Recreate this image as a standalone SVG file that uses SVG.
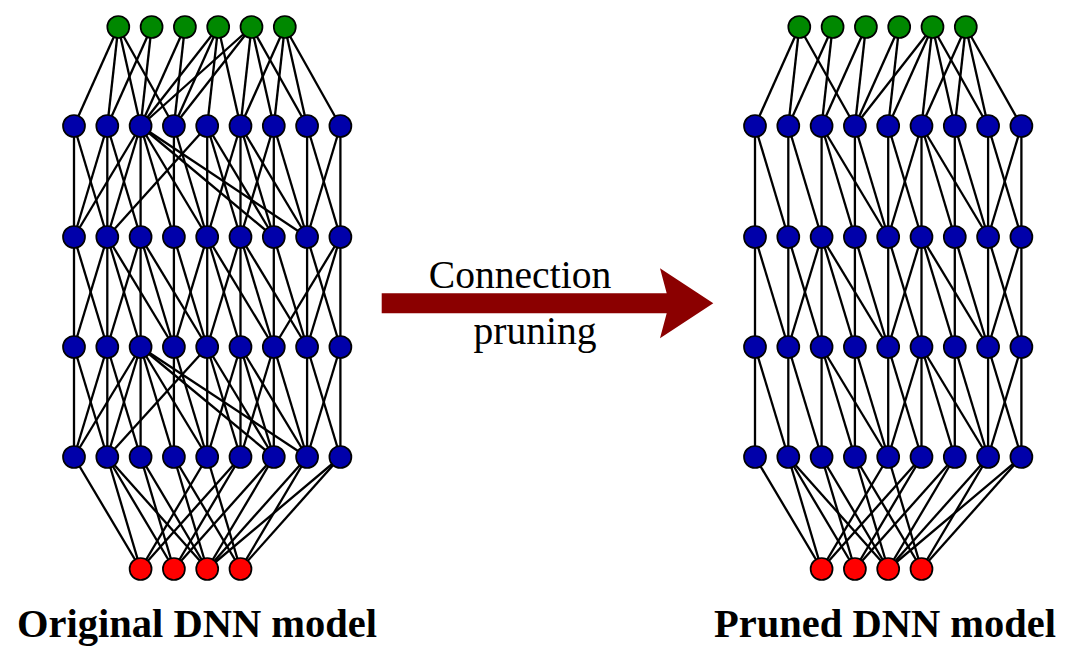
<svg xmlns="http://www.w3.org/2000/svg" width="1077" height="666" viewBox="0 0 1077 666">
<style>
.c line{stroke:#000;stroke-width:2.3}
.n circle{stroke:#000;stroke-width:1.7}
.g circle{fill:#008800}
.b circle{fill:#0000aa}
.r circle{fill:#ff0000}
.lbl{font-family:"Liberation Serif","Times New Roman",serif;font-size:39.6px;fill:#000}
.ttl{font-family:"Liberation Serif","Times New Roman",serif;font-size:40.5px;font-weight:bold;fill:#000}
</style>
<rect width="1077" height="666" fill="#fff"/>
<g id="connectors" class="c">
<!-- left: green -> row1 -->
<line x1="118.3" y1="27" x2="74" y2="126"/><line x1="118.3" y1="27" x2="107.3" y2="126"/><line x1="118.3" y1="27" x2="140.6" y2="126"/><line x1="118.3" y1="27" x2="173.9" y2="126"/>
<line x1="151.6" y1="27" x2="107.3" y2="126"/><line x1="151.6" y1="27" x2="140.6" y2="126"/>
<line x1="184.9" y1="27" x2="140.6" y2="126"/><line x1="184.9" y1="27" x2="173.9" y2="126"/>
<line x1="218.2" y1="27" x2="140.6" y2="126"/><line x1="218.2" y1="27" x2="173.9" y2="126"/><line x1="218.2" y1="27" x2="207.2" y2="126"/><line x1="218.2" y1="27" x2="240.5" y2="126"/>
<line x1="251.5" y1="27" x2="140.6" y2="126"/><line x1="251.5" y1="27" x2="173.9" y2="126"/><line x1="251.5" y1="27" x2="240.5" y2="126"/><line x1="251.5" y1="27" x2="273.8" y2="126"/><line x1="251.5" y1="27" x2="307.1" y2="126"/>
<line x1="284.8" y1="27" x2="240.5" y2="126"/><line x1="284.8" y1="27" x2="273.8" y2="126"/><line x1="284.8" y1="27" x2="307.1" y2="126"/><line x1="284.8" y1="27" x2="340.4" y2="126"/>
<!-- left: row1 -> row2 -->
<line x1="74" y1="126" x2="74" y2="237"/><line x1="74" y1="126" x2="107.3" y2="237"/>
<line x1="107.3" y1="126" x2="74" y2="237"/><line x1="107.3" y1="126" x2="107.3" y2="237"/><line x1="107.3" y1="126" x2="140.6" y2="237"/>
<line x1="140.6" y1="126" x2="74" y2="237"/><line x1="140.6" y1="126" x2="107.3" y2="237"/><line x1="140.6" y1="126" x2="140.6" y2="237"/><line x1="140.6" y1="126" x2="173.9" y2="237"/><line x1="140.6" y1="126" x2="207.2" y2="237"/><line x1="140.6" y1="126" x2="273.8" y2="237"/><line x1="140.6" y1="126" x2="307.1" y2="237"/>
<line x1="173.9" y1="126" x2="173.9" y2="237"/><line x1="173.9" y1="126" x2="207.2" y2="237"/>
<line x1="207.2" y1="126" x2="107.3" y2="237"/><line x1="207.2" y1="126" x2="207.2" y2="237"/><line x1="207.2" y1="126" x2="240.5" y2="237"/><line x1="207.2" y1="126" x2="273.8" y2="237"/>
<line x1="240.5" y1="126" x2="207.2" y2="237"/><line x1="240.5" y1="126" x2="240.5" y2="237"/><line x1="240.5" y1="126" x2="273.8" y2="237"/><line x1="240.5" y1="126" x2="307.1" y2="237"/>
<line x1="273.8" y1="126" x2="240.5" y2="237"/><line x1="273.8" y1="126" x2="273.8" y2="237"/><line x1="273.8" y1="126" x2="307.1" y2="237"/>
<line x1="307.1" y1="126" x2="307.1" y2="237"/><line x1="307.1" y1="126" x2="340.4" y2="237"/>
<line x1="340.4" y1="126" x2="307.1" y2="237"/><line x1="340.4" y1="126" x2="340.4" y2="237"/>
<!-- left: row2 -> row3 -->
<line x1="74" y1="237" x2="74" y2="347"/><line x1="74" y1="237" x2="107.3" y2="347"/>
<line x1="107.3" y1="237" x2="74" y2="347"/><line x1="107.3" y1="237" x2="107.3" y2="347"/><line x1="107.3" y1="237" x2="140.6" y2="347"/><line x1="107.3" y1="237" x2="173.9" y2="347"/>
<line x1="140.6" y1="237" x2="107.3" y2="347"/><line x1="140.6" y1="237" x2="140.6" y2="347"/><line x1="140.6" y1="237" x2="173.9" y2="347"/><line x1="140.6" y1="237" x2="207.2" y2="347"/>
<line x1="173.9" y1="237" x2="173.9" y2="347"/><line x1="173.9" y1="237" x2="207.2" y2="347"/>
<line x1="207.2" y1="237" x2="173.9" y2="347"/><line x1="207.2" y1="237" x2="207.2" y2="347"/><line x1="207.2" y1="237" x2="240.5" y2="347"/><line x1="207.2" y1="237" x2="273.8" y2="347"/>
<line x1="240.5" y1="237" x2="207.2" y2="347"/><line x1="240.5" y1="237" x2="240.5" y2="347"/><line x1="240.5" y1="237" x2="273.8" y2="347"/><line x1="240.5" y1="237" x2="307.1" y2="347"/>
<line x1="273.8" y1="237" x2="273.8" y2="347"/><line x1="273.8" y1="237" x2="307.1" y2="347"/>
<line x1="307.1" y1="237" x2="307.1" y2="347"/><line x1="307.1" y1="237" x2="340.4" y2="347"/>
<line x1="340.4" y1="237" x2="273.8" y2="347"/><line x1="340.4" y1="237" x2="307.1" y2="347"/><line x1="340.4" y1="237" x2="340.4" y2="347"/>
<!-- left: row3 -> row4 -->
<line x1="74" y1="347" x2="74" y2="457"/><line x1="74" y1="347" x2="107.3" y2="457"/>
<line x1="107.3" y1="347" x2="74" y2="457"/><line x1="107.3" y1="347" x2="107.3" y2="457"/><line x1="107.3" y1="347" x2="140.6" y2="457"/>
<line x1="140.6" y1="347" x2="74" y2="457"/><line x1="140.6" y1="347" x2="107.3" y2="457"/><line x1="140.6" y1="347" x2="140.6" y2="457"/><line x1="140.6" y1="347" x2="173.9" y2="457"/><line x1="140.6" y1="347" x2="207.2" y2="457"/><line x1="140.6" y1="347" x2="273.8" y2="457"/><line x1="140.6" y1="347" x2="307.1" y2="457"/>
<line x1="173.9" y1="347" x2="173.9" y2="457"/><line x1="173.9" y1="347" x2="207.2" y2="457"/>
<line x1="207.2" y1="347" x2="107.3" y2="457"/><line x1="207.2" y1="347" x2="207.2" y2="457"/><line x1="207.2" y1="347" x2="240.5" y2="457"/><line x1="207.2" y1="347" x2="273.8" y2="457"/>
<line x1="240.5" y1="347" x2="207.2" y2="457"/><line x1="240.5" y1="347" x2="240.5" y2="457"/><line x1="240.5" y1="347" x2="273.8" y2="457"/><line x1="240.5" y1="347" x2="307.1" y2="457"/>
<line x1="273.8" y1="347" x2="240.5" y2="457"/><line x1="273.8" y1="347" x2="273.8" y2="457"/><line x1="273.8" y1="347" x2="307.1" y2="457"/>
<line x1="307.1" y1="347" x2="307.1" y2="457"/><line x1="307.1" y1="347" x2="340.4" y2="457"/>
<line x1="340.4" y1="347" x2="307.1" y2="457"/><line x1="340.4" y1="347" x2="340.4" y2="457"/>
<!-- left: row4 -> red -->
<line x1="74" y1="457" x2="140.6" y2="569"/>
<line x1="107.3" y1="457" x2="140.6" y2="569"/><line x1="107.3" y1="457" x2="173.9" y2="569"/><line x1="107.3" y1="457" x2="207.2" y2="569"/>
<line x1="140.6" y1="457" x2="173.9" y2="569"/><line x1="140.6" y1="457" x2="207.2" y2="569"/>
<line x1="173.9" y1="457" x2="207.2" y2="569"/><line x1="173.9" y1="457" x2="240.5" y2="569"/>
<line x1="207.2" y1="457" x2="140.6" y2="569"/><line x1="207.2" y1="457" x2="240.5" y2="569"/>
<line x1="240.5" y1="457" x2="140.6" y2="569"/><line x1="240.5" y1="457" x2="173.9" y2="569"/>
<line x1="273.8" y1="457" x2="173.9" y2="569"/><line x1="273.8" y1="457" x2="207.2" y2="569"/>
<line x1="307.1" y1="457" x2="207.2" y2="569"/><line x1="307.1" y1="457" x2="240.5" y2="569"/>
<line x1="340.4" y1="457" x2="207.2" y2="569"/><line x1="340.4" y1="457" x2="240.5" y2="569"/>

<!-- right: green -> row1 -->
<line x1="799.3" y1="27" x2="755" y2="126"/><line x1="799.3" y1="27" x2="788.3" y2="126"/><line x1="799.3" y1="27" x2="854.9" y2="126"/>
<line x1="832.6" y1="27" x2="788.3" y2="126"/><line x1="832.6" y1="27" x2="821.6" y2="126"/>
<line x1="865.9" y1="27" x2="821.6" y2="126"/><line x1="865.9" y1="27" x2="854.9" y2="126"/>
<line x1="899.2" y1="27" x2="854.9" y2="126"/><line x1="899.2" y1="27" x2="888.2" y2="126"/>
<line x1="932.5" y1="27" x2="854.9" y2="126"/><line x1="932.5" y1="27" x2="888.2" y2="126"/><line x1="932.5" y1="27" x2="921.5" y2="126"/><line x1="932.5" y1="27" x2="954.8" y2="126"/><line x1="932.5" y1="27" x2="988.1" y2="126"/>
<line x1="965.8" y1="27" x2="921.5" y2="126"/><line x1="965.8" y1="27" x2="954.8" y2="126"/><line x1="965.8" y1="27" x2="988.1" y2="126"/><line x1="965.8" y1="27" x2="1021.4" y2="126"/>
<!-- right: row1 -> row2 -->
<line x1="755" y1="126" x2="755" y2="237"/><line x1="755" y1="126" x2="788.3" y2="237"/>
<line x1="788.3" y1="126" x2="788.3" y2="237"/><line x1="788.3" y1="126" x2="821.6" y2="237"/>
<line x1="821.6" y1="126" x2="821.6" y2="237"/><line x1="821.6" y1="126" x2="854.9" y2="237"/><line x1="821.6" y1="126" x2="888.2" y2="237"/>
<line x1="854.9" y1="126" x2="854.9" y2="237"/><line x1="854.9" y1="126" x2="888.2" y2="237"/>
<line x1="888.2" y1="126" x2="888.2" y2="237"/><line x1="888.2" y1="126" x2="921.5" y2="237"/>
<line x1="921.5" y1="126" x2="888.2" y2="237"/><line x1="921.5" y1="126" x2="921.5" y2="237"/><line x1="921.5" y1="126" x2="954.8" y2="237"/><line x1="921.5" y1="126" x2="988.1" y2="237"/>
<line x1="954.8" y1="126" x2="954.8" y2="237"/><line x1="954.8" y1="126" x2="988.1" y2="237"/>
<line x1="988.1" y1="126" x2="988.1" y2="237"/><line x1="988.1" y1="126" x2="1021.4" y2="237"/>
<line x1="1021.4" y1="126" x2="988.1" y2="237"/><line x1="1021.4" y1="126" x2="1021.4" y2="237"/>
<!-- right: row2 -> row3 -->
<line x1="755" y1="237" x2="755" y2="347"/><line x1="755" y1="237" x2="788.3" y2="347"/>
<line x1="788.3" y1="237" x2="788.3" y2="347"/><line x1="788.3" y1="237" x2="821.6" y2="347"/>
<line x1="821.6" y1="237" x2="788.3" y2="347"/><line x1="821.6" y1="237" x2="821.6" y2="347"/><line x1="821.6" y1="237" x2="854.9" y2="347"/><line x1="821.6" y1="237" x2="888.2" y2="347"/>
<line x1="854.9" y1="237" x2="854.9" y2="347"/><line x1="854.9" y1="237" x2="888.2" y2="347"/>
<line x1="888.2" y1="237" x2="888.2" y2="347"/><line x1="888.2" y1="237" x2="921.5" y2="347"/>
<line x1="921.5" y1="237" x2="888.2" y2="347"/><line x1="921.5" y1="237" x2="921.5" y2="347"/><line x1="921.5" y1="237" x2="954.8" y2="347"/><line x1="921.5" y1="237" x2="988.1" y2="347"/>
<line x1="954.8" y1="237" x2="954.8" y2="347"/><line x1="954.8" y1="237" x2="988.1" y2="347"/>
<line x1="988.1" y1="237" x2="988.1" y2="347"/><line x1="988.1" y1="237" x2="1021.4" y2="347"/>
<line x1="1021.4" y1="237" x2="988.1" y2="347"/><line x1="1021.4" y1="237" x2="1021.4" y2="347"/>
<!-- right: row3 -> row4 -->
<line x1="755" y1="347" x2="755" y2="457"/><line x1="755" y1="347" x2="788.3" y2="457"/>
<line x1="788.3" y1="347" x2="788.3" y2="457"/><line x1="788.3" y1="347" x2="821.6" y2="457"/>
<line x1="821.6" y1="347" x2="821.6" y2="457"/><line x1="821.6" y1="347" x2="854.9" y2="457"/><line x1="821.6" y1="347" x2="888.2" y2="457"/>
<line x1="854.9" y1="347" x2="854.9" y2="457"/><line x1="854.9" y1="347" x2="888.2" y2="457"/>
<line x1="888.2" y1="347" x2="888.2" y2="457"/><line x1="888.2" y1="347" x2="921.5" y2="457"/>
<line x1="921.5" y1="347" x2="888.2" y2="457"/><line x1="921.5" y1="347" x2="921.5" y2="457"/><line x1="921.5" y1="347" x2="954.8" y2="457"/><line x1="921.5" y1="347" x2="988.1" y2="457"/>
<line x1="954.8" y1="347" x2="954.8" y2="457"/><line x1="954.8" y1="347" x2="988.1" y2="457"/>
<line x1="988.1" y1="347" x2="988.1" y2="457"/><line x1="988.1" y1="347" x2="1021.4" y2="457"/>
<line x1="1021.4" y1="347" x2="988.1" y2="457"/><line x1="1021.4" y1="347" x2="1021.4" y2="457"/>
<!-- right: row4 -> red -->
<line x1="755" y1="457" x2="821.6" y2="569"/>
<line x1="788.3" y1="457" x2="821.6" y2="569"/><line x1="788.3" y1="457" x2="854.9" y2="569"/><line x1="788.3" y1="457" x2="888.2" y2="569"/>
<line x1="821.6" y1="457" x2="854.9" y2="569"/><line x1="821.6" y1="457" x2="888.2" y2="569"/>
<line x1="854.9" y1="457" x2="888.2" y2="569"/><line x1="854.9" y1="457" x2="921.5" y2="569"/>
<line x1="888.2" y1="457" x2="821.6" y2="569"/><line x1="888.2" y1="457" x2="921.5" y2="569"/>
<line x1="921.5" y1="457" x2="821.6" y2="569"/><line x1="921.5" y1="457" x2="854.9" y2="569"/>
<line x1="954.8" y1="457" x2="854.9" y2="569"/><line x1="954.8" y1="457" x2="888.2" y2="569"/>
<line x1="988.1" y1="457" x2="888.2" y2="569"/><line x1="988.1" y1="457" x2="921.5" y2="569"/>
<line x1="1021.4" y1="457" x2="888.2" y2="569"/><line x1="1021.4" y1="457" x2="921.5" y2="569"/>
</g>

<!-- left nodes -->
<g class="n g">
<g id="L-g0"><circle cx="118.3" cy="27" r="11"/></g>
<g id="L-g1"><circle cx="151.6" cy="27" r="11"/></g>
<g id="L-g2"><circle cx="184.9" cy="27" r="11"/></g>
<g id="L-g3"><circle cx="218.2" cy="27" r="11"/></g>
<g id="L-g4"><circle cx="251.5" cy="27" r="11"/></g>
<g id="L-g5"><circle cx="284.8" cy="27" r="11"/></g>
</g>
<g class="n b">
<g id="L-h1-0"><circle cx="74" cy="126" r="11"/></g>
<g id="L-h1-1"><circle cx="107.3" cy="126" r="11"/></g>
<g id="L-h1-2"><circle cx="140.6" cy="126" r="11"/></g>
<g id="L-h1-3"><circle cx="173.9" cy="126" r="11"/></g>
<g id="L-h1-4"><circle cx="207.2" cy="126" r="11"/></g>
<g id="L-h1-5"><circle cx="240.5" cy="126" r="11"/></g>
<g id="L-h1-6"><circle cx="273.8" cy="126" r="11"/></g>
<g id="L-h1-7"><circle cx="307.1" cy="126" r="11"/></g>
<g id="L-h1-8"><circle cx="340.4" cy="126" r="11"/></g>
<g id="L-h2-0"><circle cx="74" cy="237" r="11"/></g>
<g id="L-h2-1"><circle cx="107.3" cy="237" r="11"/></g>
<g id="L-h2-2"><circle cx="140.6" cy="237" r="11"/></g>
<g id="L-h2-3"><circle cx="173.9" cy="237" r="11"/></g>
<g id="L-h2-4"><circle cx="207.2" cy="237" r="11"/></g>
<g id="L-h2-5"><circle cx="240.5" cy="237" r="11"/></g>
<g id="L-h2-6"><circle cx="273.8" cy="237" r="11"/></g>
<g id="L-h2-7"><circle cx="307.1" cy="237" r="11"/></g>
<g id="L-h2-8"><circle cx="340.4" cy="237" r="11"/></g>
<g id="L-h3-0"><circle cx="74" cy="347" r="11"/></g>
<g id="L-h3-1"><circle cx="107.3" cy="347" r="11"/></g>
<g id="L-h3-2"><circle cx="140.6" cy="347" r="11"/></g>
<g id="L-h3-3"><circle cx="173.9" cy="347" r="11"/></g>
<g id="L-h3-4"><circle cx="207.2" cy="347" r="11"/></g>
<g id="L-h3-5"><circle cx="240.5" cy="347" r="11"/></g>
<g id="L-h3-6"><circle cx="273.8" cy="347" r="11"/></g>
<g id="L-h3-7"><circle cx="307.1" cy="347" r="11"/></g>
<g id="L-h3-8"><circle cx="340.4" cy="347" r="11"/></g>
<g id="L-h4-0"><circle cx="74" cy="457" r="11"/></g>
<g id="L-h4-1"><circle cx="107.3" cy="457" r="11"/></g>
<g id="L-h4-2"><circle cx="140.6" cy="457" r="11"/></g>
<g id="L-h4-3"><circle cx="173.9" cy="457" r="11"/></g>
<g id="L-h4-4"><circle cx="207.2" cy="457" r="11"/></g>
<g id="L-h4-5"><circle cx="240.5" cy="457" r="11"/></g>
<g id="L-h4-6"><circle cx="273.8" cy="457" r="11"/></g>
<g id="L-h4-7"><circle cx="307.1" cy="457" r="11"/></g>
<g id="L-h4-8"><circle cx="340.4" cy="457" r="11"/></g>
</g>
<g class="n r">
<g id="L-r0"><circle cx="140.6" cy="569" r="11"/></g>
<g id="L-r1"><circle cx="173.9" cy="569" r="11"/></g>
<g id="L-r2"><circle cx="207.2" cy="569" r="11"/></g>
<g id="L-r3"><circle cx="240.5" cy="569" r="11"/></g>
</g>

<!-- right nodes -->
<g class="n g">
<g id="R-g0"><circle cx="799.3" cy="27" r="11"/></g>
<g id="R-g1"><circle cx="832.6" cy="27" r="11"/></g>
<g id="R-g2"><circle cx="865.9" cy="27" r="11"/></g>
<g id="R-g3"><circle cx="899.2" cy="27" r="11"/></g>
<g id="R-g4"><circle cx="932.5" cy="27" r="11"/></g>
<g id="R-g5"><circle cx="965.8" cy="27" r="11"/></g>
</g>
<g class="n b">
<g id="R-h1-0"><circle cx="755" cy="126" r="11"/></g>
<g id="R-h1-1"><circle cx="788.3" cy="126" r="11"/></g>
<g id="R-h1-2"><circle cx="821.6" cy="126" r="11"/></g>
<g id="R-h1-3"><circle cx="854.9" cy="126" r="11"/></g>
<g id="R-h1-4"><circle cx="888.2" cy="126" r="11"/></g>
<g id="R-h1-5"><circle cx="921.5" cy="126" r="11"/></g>
<g id="R-h1-6"><circle cx="954.8" cy="126" r="11"/></g>
<g id="R-h1-7"><circle cx="988.1" cy="126" r="11"/></g>
<g id="R-h1-8"><circle cx="1021.4" cy="126" r="11"/></g>
<g id="R-h2-0"><circle cx="755" cy="237" r="11"/></g>
<g id="R-h2-1"><circle cx="788.3" cy="237" r="11"/></g>
<g id="R-h2-2"><circle cx="821.6" cy="237" r="11"/></g>
<g id="R-h2-3"><circle cx="854.9" cy="237" r="11"/></g>
<g id="R-h2-4"><circle cx="888.2" cy="237" r="11"/></g>
<g id="R-h2-5"><circle cx="921.5" cy="237" r="11"/></g>
<g id="R-h2-6"><circle cx="954.8" cy="237" r="11"/></g>
<g id="R-h2-7"><circle cx="988.1" cy="237" r="11"/></g>
<g id="R-h2-8"><circle cx="1021.4" cy="237" r="11"/></g>
<g id="R-h3-0"><circle cx="755" cy="347" r="11"/></g>
<g id="R-h3-1"><circle cx="788.3" cy="347" r="11"/></g>
<g id="R-h3-2"><circle cx="821.6" cy="347" r="11"/></g>
<g id="R-h3-3"><circle cx="854.9" cy="347" r="11"/></g>
<g id="R-h3-4"><circle cx="888.2" cy="347" r="11"/></g>
<g id="R-h3-5"><circle cx="921.5" cy="347" r="11"/></g>
<g id="R-h3-6"><circle cx="954.8" cy="347" r="11"/></g>
<g id="R-h3-7"><circle cx="988.1" cy="347" r="11"/></g>
<g id="R-h3-8"><circle cx="1021.4" cy="347" r="11"/></g>
<g id="R-h4-0"><circle cx="755" cy="457" r="11"/></g>
<g id="R-h4-1"><circle cx="788.3" cy="457" r="11"/></g>
<g id="R-h4-2"><circle cx="821.6" cy="457" r="11"/></g>
<g id="R-h4-3"><circle cx="854.9" cy="457" r="11"/></g>
<g id="R-h4-4"><circle cx="888.2" cy="457" r="11"/></g>
<g id="R-h4-5"><circle cx="921.5" cy="457" r="11"/></g>
<g id="R-h4-6"><circle cx="954.8" cy="457" r="11"/></g>
<g id="R-h4-7"><circle cx="988.1" cy="457" r="11"/></g>
<g id="R-h4-8"><circle cx="1021.4" cy="457" r="11"/></g>
</g>
<g class="n r">
<g id="R-r0"><circle cx="821.6" cy="569" r="11"/></g>
<g id="R-r1"><circle cx="854.9" cy="569" r="11"/></g>
<g id="R-r2"><circle cx="888.2" cy="569" r="11"/></g>
<g id="R-r3"><circle cx="921.5" cy="569" r="11"/></g>
</g>

<g id="arrow">
<polygon points="381.7,293.3 666.7,293.3 660,268.3 713.3,303.3 660,338.3 666.7,313.3 381.7,313.3" fill="#8b0000"/>
<text class="lbl" x="520" y="288" text-anchor="middle">Connection</text>
<text class="lbl" x="535" y="344" text-anchor="middle">pruning</text>
</g>
<g id="titles">
<text class="ttl" x="197" y="637" text-anchor="middle">Original DNN model</text>
<text class="ttl" x="885" y="637" text-anchor="middle">Pruned DNN model</text>
</g>
</svg>
